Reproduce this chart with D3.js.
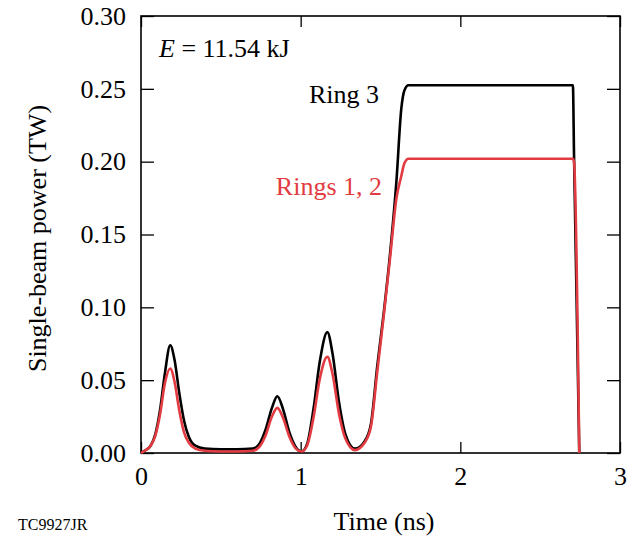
<!DOCTYPE html>
<html lang="en">
<head>
  <meta charset="UTF-8">
  <title>Single-beam power</title>
  <script src="https://d3js.org/d3.v7.min.js"></script>
</head>
<body style="margin:0">
<svg width="637" height="539" font-family="Liberation Serif, Times New Roman, serif"></svg>
<script>
  // time in ns, power in TW
  var time = [0, 0.03, 0.06, 0.09, 0.12, 0.15, 0.183, 0.21, 0.24, 0.27, 0.30, 0.34, 0.40, 0.50, 0.60, 0.70,
    0.74, 0.78, 0.82, 0.854, 0.89, 0.93, 0.97, 1.005, 1.04, 1.08, 1.12, 1.167, 1.20, 1.24, 1.28, 1.34,
    1.40, 1.44, 1.48, 1.52, 1.56, 1.60, 1.63, 1.65, 1.675, 2.00, 2.40, 2.705, 2.712, 2.745];
  var ring3 = [0, 0.002, 0.005, 0.013, 0.030, 0.055, 0.074, 0.064, 0.041, 0.022, 0.011, 0.005, 0.003, 0.0025, 0.0025, 0.003,
    0.006, 0.016, 0.031, 0.039, 0.030, 0.014, 0.004, 0.001, 0.006, 0.030, 0.063, 0.083, 0.068, 0.035, 0.013, 0.003,
    0.008, 0.020, 0.060, 0.096, 0.137, 0.187, 0.236, 0.249, 0.2525, 0.2525, 0.2525, 0.2525, 0.205, 0];
  var rings12 = [0, 0.002, 0.005, 0.012, 0.027, 0.048, 0.058, 0.049, 0.029, 0.014, 0.007, 0.003, 0.0015, 0.001, 0.001, 0.0015,
    0.004, 0.012, 0.025, 0.031, 0.024, 0.011, 0.003, 0.001, 0.005, 0.024, 0.051, 0.066, 0.054, 0.027, 0.010, 0.002,
    0.007, 0.018, 0.056, 0.094, 0.134, 0.175, 0.190, 0.199, 0.202, 0.202, 0.202, 0.202, 0.200, 0];
  var xTicks = [0, 1, 2, 3];
  var yTicks = [0, 0.05, 0.10, 0.15, 0.20, 0.25, 0.30];

  var FONT = 'Liberation Serif, Times New Roman, serif';
  var RED = '#e23b41';
  var svg = d3.select('svg');
  var plot = {left: 141, right: 620, top: 16, bottom: 453};

  var x = d3.scaleLinear().domain([0, 3]).range([plot.left, plot.right]);
  var y = d3.scaleLinear().domain([0, 0.30]).range([plot.bottom, plot.top]);

  function styleAxis(sel) {
    sel.attr('font-family', FONT).attr('font-size', 26);
    sel.select('.domain').remove();
    sel.selectAll('.tick line').attr('stroke', '#000').attr('stroke-width', 1.3);
    sel.selectAll('.tick text').attr('fill', '#000');
  }

  svg.append('g')
    .attr('transform', 'translate(0,' + plot.bottom + ')')
    .call(d3.axisBottom(x).tickValues(xTicks).tickFormat(d3.format('d')).tickSizeInner(-11).tickSizeOuter(0).tickPadding(14))
    .call(styleAxis);
  svg.append('g')
    .attr('transform', 'translate(0,' + plot.top + ')')
    .call(d3.axisTop(x).tickValues(xTicks).tickFormat('').tickSizeInner(-11).tickSizeOuter(0))
    .call(styleAxis);
  svg.append('g')
    .attr('transform', 'translate(' + plot.left + ',0)')
    .call(d3.axisLeft(y).tickValues(yTicks).tickFormat(d3.format('.2f')).tickSizeInner(-13).tickSizeOuter(0).tickPadding(15))
    .call(styleAxis);
  svg.append('g')
    .attr('transform', 'translate(' + plot.right + ',0)')
    .call(d3.axisRight(y).tickValues(yTicks).tickFormat('').tickSizeInner(-13).tickSizeOuter(0))
    .call(styleAxis);

  svg.append('rect')
    .attr('x', plot.left)
    .attr('y', plot.top)
    .attr('width', plot.right - plot.left)
    .attr('height', plot.bottom - plot.top)
    .attr('fill', 'none')
    .attr('stroke', '#000')
    .attr('stroke-width', 1.6);

  var line = function (values) {
    return d3.line()
      .x(function (d, i) { return x(time[i]); })
      .y(function (d) { return y(d); })
      .curve(d3.curveMonotoneX)(values);
  };

  svg.append('path')
    .attr('d', line(ring3))
    .attr('fill', 'none')
    .attr('stroke', '#000')
    .attr('stroke-width', 2.6)
    .attr('stroke-linejoin', 'round');

  svg.append('path')
    .attr('d', line(rings12))
    .attr('fill', 'none')
    .attr('stroke', RED)
    .attr('stroke-width', 2.6)
    .attr('stroke-linejoin', 'round');

  var e = svg.append('text')
    .attr('x', 159)
    .attr('y', 57)
    .attr('font-size', 26)
    .attr('fill', '#000');
  e.append('tspan').attr('font-style', 'italic').text('E');
  e.append('tspan').text(' = 11.54 kJ');

  svg.append('text')
    .attr('x', 379)
    .attr('y', 103)
    .attr('text-anchor', 'end')
    .attr('font-size', 26)
    .attr('fill', '#000')
    .text('Ring 3');

  svg.append('text')
    .attr('x', 382)
    .attr('y', 195)
    .attr('text-anchor', 'end')
    .attr('font-size', 26)
    .attr('fill', RED)
    .text('Rings 1, 2');

  svg.append('text')
    .attr('x', 384)
    .attr('y', 530)
    .attr('text-anchor', 'middle')
    .attr('font-size', 26)
    .attr('fill', '#000')
    .text('Time (ns)');

  svg.append('text')
    .attr('transform', 'translate(46,' + ((plot.top + plot.bottom) / 2 + 4) + ') rotate(-90)')
    .attr('text-anchor', 'middle')
    .attr('font-size', 26)
    .attr('fill', '#000')
    .text('Single-beam power (TW)');

  svg.append('text')
    .attr('x', 18)
    .attr('y', 530)
    .attr('font-size', 16)
    .attr('fill', '#000')
    .text('TC9927JR');
</script>
</body>
</html>
